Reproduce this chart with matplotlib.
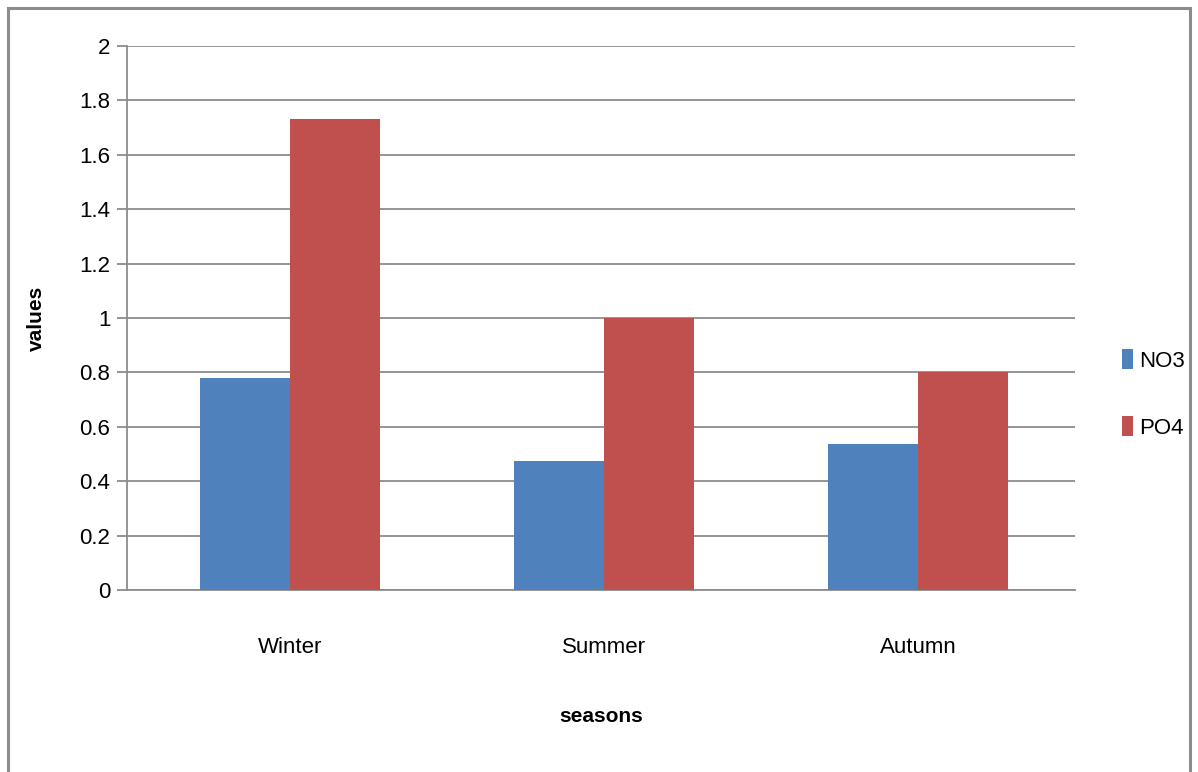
import numpy as np
import matplotlib
matplotlib.use('Agg')
import matplotlib.pyplot as plt
from matplotlib.patches import Rectangle

plt.rcParams['font.family'] = ['Liberation Sans', 'DejaVu Sans']

seasons = ['Winter', 'Summer', 'Autumn']
no3 = [0.78, 0.475, 0.537]
po4 = [1.73, 1.0, 0.80]
yticks = [0, 0.2, 0.4, 0.6, 0.8, 1, 1.2, 1.4, 1.6, 1.8, 2]
ytick_labels = ['0', '0.2', '0.4', '0.6', '0.8', '1', '1.2', '1.4', '1.6', '1.8', '2']

BLUE = '#4f81bd'
RED = '#c0504d'
GRID = '#8c8c8c'

fig = plt.figure(figsize=(11.98, 7.72), dpi=100)
ax = fig.add_axes([127/1198, 1 - 590/772, (1075 - 127)/1198, (590 - 46)/772])

# outer chart border
fig.patches.append(Rectangle((8/1198, -0.01), (1190 - 8)/1198, 1.0,
                             transform=fig.transFigure, fill=False,
                             edgecolor='#8c8c8c', linewidth=2.2))

x = np.arange(len(seasons))
w = 0.287
ax.bar(x - w/2, no3, width=w, color=BLUE, label='NO3', zorder=3)
ax.bar(x + w/2, po4, width=w, color=RED, label='PO4', zorder=3)

ax.set_xlim(-0.52, 2.5)
ax.set_ylim(0, 2)
ax.set_yticks(yticks)
ax.set_yticklabels(ytick_labels)
ax.set_xticks(x)
ax.set_xticklabels(seasons)
ax.yaxis.grid(True, color=GRID, linewidth=1.3, zorder=0)
ax.set_axisbelow(True)

for s in ['top', 'right']:
    ax.spines[s].set_visible(False)
ax.spines['left'].set_color(GRID)
ax.spines['bottom'].set_color(GRID)
ax.spines['left'].set_linewidth(1.3)
ax.spines['bottom'].set_linewidth(1.3)
ax.tick_params(axis='y', length=7, width=1.3, color=GRID, labelsize=16, pad=5)
ax.tick_params(axis='x', length=0, labelsize=16, pad=34)

ax.set_ylabel('values', fontsize=15, fontweight='bold')
ax.yaxis.set_label_coords(-0.085, 0.5)
ax.set_xlabel('seasons', fontsize=15, fontweight='bold')
ax.xaxis.set_label_coords(0.5, -0.215)

ax.legend(loc='center left', bbox_to_anchor=(1.028, 0.36), frameon=False,
          fontsize=16, handlelength=0.5, handleheight=1.0, handletextpad=0.3,
          labelspacing=2.0)

fig.savefig('out.png', dpi=100)
